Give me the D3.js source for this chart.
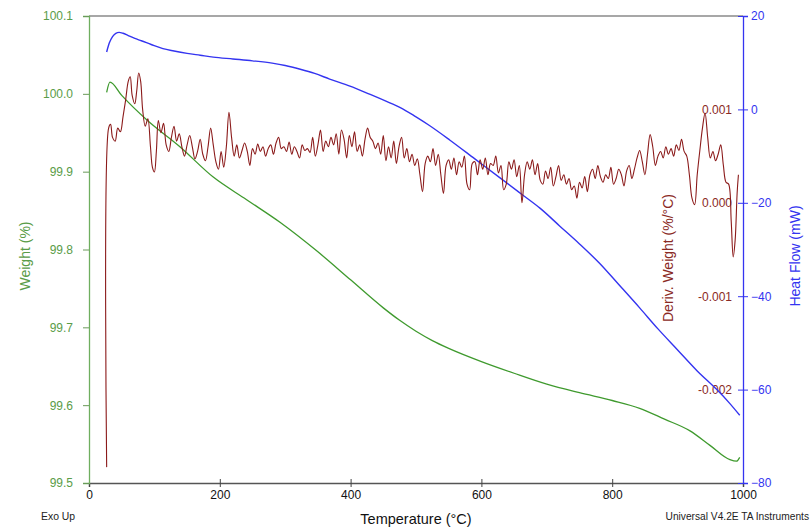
<!DOCTYPE html>
<html>
<head>
<meta charset="utf-8">
<script src="https://cdn.jsdelivr.net/npm/d3@7"></script>
<style>
  html, body { margin: 0; padding: 0; background: #fff; }
  svg { display: block; font-family: "Liberation Sans", Arial, sans-serif; }
</style>
</head>
<body>
<svg id="chart" width="810" height="531"></svg>
<script>
// ---------------- DATA ----------------
const xTicks = [0, 200, 400, 600, 800, 1000];
const weightTicks = [99.5, 99.6, 99.7, 99.8, 99.9, 100.0, 100.1];
const heatTicks = [-80, -60, -40, -20, 0, 20];
const derivTicks = [1, 0, -1, -2];               // in units of 0.001 %/°C
const derivTickLabels = ["0.001", "0.000", "-0.001", "-0.002"];

// Weight (%) vs temperature (°C)
const weightT = [27, 32, 50, 89, 139, 190, 241, 292, 350, 400, 450, 475, 500, 525, 550, 600, 650, 700, 750, 800, 842, 880, 919, 950, 980, 990, 995];
const weightV = [100.002, 100.015, 99.998, 99.966, 99.932, 99.893, 99.864, 99.835, 99.797, 99.761, 99.725, 99.709, 99.695, 99.683, 99.673, 99.656, 99.641, 99.627, 99.616, 99.606, 99.596, 99.582, 99.567, 99.548, 99.530, 99.528, 99.533];

// Heat flow (mW) vs temperature (°C)
const heatT = [27, 31, 36, 41, 46, 52, 60, 70, 80, 95, 113, 130, 150, 170, 190, 220, 250, 280, 300, 323, 345, 368, 399, 430, 460, 476, 500, 520, 552, 590, 628, 660, 690, 720, 750, 781, 810, 842, 870, 900, 930, 960, 980, 995];
const heatV = [12.3, 14.2, 15.6, 16.3, 16.5, 16.3, 15.8, 15.2, 14.7, 13.9, 13.0, 12.5, 12.0, 11.6, 11.2, 10.8, 10.4, 9.9, 9.4, 8.6, 7.7, 6.5, 5.0, 3.2, 1.4, 0.4, -1.6, -3.4, -6.6, -10.6, -14.6, -18.0, -21.2, -25.0, -28.8, -33.0, -37.5, -42.5, -47.0, -51.5, -56.0, -60.0, -63.0, -65.5];

// Deriv. weight (x0.001 %/°C) vs temperature (°C)
const derivT = [27,30,33,36,40,44,48,52,56,60,63,66,70,73,76,79,82,86,90,94,97,100,103,106,110,114,118,122,126,130,134,138,142,146,150,154,158,162,166,170,174,178,182,186,190,194,198,202,206,210,214,218,222,226,230,234,238,242,246,250,254,258,262,266,270,274,278,282,286,290,294,298,302,306,310,314,318,322,326,330,334,338,342,346,350,354,358,362,366,370,374,378,382,386,390,394,398,402,406,410,414,418,422,426,430,434,438,442,446,450,454,458,462,466,470,474,478,482,486,490,494,498,502,506,510,514,518,522,526,530,534,538,542,546,550,554,558,562,566,570,574,578,582,586,590,594,598,602,606,610,614,618,622,626,630,634,638,642,646,650,654,658,662,666,670,674,678,682,686,690,694,698,702,706,710,714,718,722,726,730,734,738,742,746,750,754,758,762,766,770,774,778,782,786,790,794,798,802,806,810,814,818,822,826,830,834,838,842,846,850,854,858,862,866,870,874,878,882,886,890,894,898,902,906,910,914,918,922,926,930,934,938,942,946,950,954,958,962,966,970,974,978,982,985,988,991,993];
const derivV = [-2.83,0.80,0.84,0.70,0.66,0.80,0.76,0.92,1.10,1.30,1.35,1.15,1.06,1.20,1.39,1.30,1.00,0.82,0.90,0.60,0.38,0.33,0.55,0.88,0.75,0.85,0.62,0.55,0.70,0.82,0.66,0.74,0.60,0.50,0.62,0.72,0.60,0.47,0.55,0.68,0.52,0.45,0.60,0.80,0.62,0.44,0.36,0.55,0.38,0.60,0.97,0.70,0.50,0.62,0.48,0.56,0.64,0.55,0.40,0.58,0.52,0.63,0.55,0.60,0.50,0.58,0.62,0.52,0.64,0.70,0.58,0.60,0.55,0.65,0.52,0.60,0.55,0.48,0.62,0.56,0.58,0.54,0.70,0.50,0.62,0.78,0.55,0.66,0.60,0.70,0.62,0.74,0.52,0.78,0.68,0.48,0.72,0.60,0.76,0.55,0.62,0.50,0.68,0.80,0.70,0.66,0.58,0.64,0.52,0.72,0.45,0.60,0.48,0.66,0.42,0.60,0.70,0.48,0.58,0.44,0.52,0.40,0.47,0.30,0.12,0.42,0.50,0.44,0.58,0.40,0.52,0.30,0.10,0.40,0.46,0.36,0.48,0.30,0.44,0.38,0.50,0.20,0.14,0.42,0.44,0.30,0.46,0.36,0.48,0.30,0.42,0.40,0.50,0.32,0.40,0.14,0.20,0.44,0.36,0.46,0.28,0.40,0.00,0.30,0.44,0.36,0.46,0.30,0.42,0.24,0.20,0.34,0.26,0.38,0.18,0.28,0.40,0.24,0.30,0.20,0.26,0.14,0.18,0.05,0.22,0.16,0.28,0.12,0.30,0.36,0.26,0.40,0.28,0.22,0.30,0.26,0.38,0.20,0.26,0.36,0.30,0.18,0.34,0.40,0.26,0.36,0.48,0.56,0.44,0.30,0.52,0.73,0.60,0.40,0.50,0.55,0.48,0.60,0.52,0.58,0.50,0.62,0.56,0.68,0.55,0.50,0.30,0.05,-0.02,0.30,0.56,0.80,0.96,0.70,0.48,0.55,0.45,0.52,0.62,0.40,0.22,0.20,-0.20,-0.58,-0.40,0.10,0.30];

// ---------------- LAYOUT ----------------
const L = 89, R = 743, T = 16, B = 483;
const green = "#3f9a2e", greenText = "#5a9c48", blue = "#3434f0", red = "#8b1a1a", redText = "#8a2a24";

const svg = d3.select("#chart");
const x = d3.scaleLinear().domain([0, 1000]).range([L, R]);
const yW = d3.scaleLinear().domain([99.5, 100.1]).range([B, T]);
const yH = d3.scaleLinear().domain([-80, 20]).range([B, T]);
const yD = d3.scaleLinear().domain([-3, 2]).range([B, T]);

// top border
svg.append("line").attr("x1", L).attr("x2", R).attr("y1", T).attr("y2", T)
  .attr("stroke", "#8a8a8a").attr("stroke-width", 1.5);

// ---------------- AXES ----------------
function range(a, b, s) { const o = []; for (let v = a; v <= b + 1e-9; v += s) o.push(+v.toFixed(4)); return o; }

// x axis
const gx = svg.append("g").attr("transform", `translate(0,${B})`);
gx.call(d3.axisBottom(x).tickValues(range(0, 1000, 50).filter(v => v % 200 !== 0)).tickSize(-3).tickFormat(""));
gx.call(d3.axisBottom(x).tickValues(xTicks).tickSize(4).tickPadding(3).tickFormat(d3.format("d")));
gx.selectAll(".tick line").attr("stroke", "#444");
gx.selectAll(".tick").filter(d => xTicks.includes(d)).select("line").attr("y1", -4);
gx.selectAll(".domain").attr("stroke", "#555").attr("stroke-width", 1.5);
gx.selectAll("text").attr("font-size", 12).attr("fill", "#111");

// left (weight) axis
const gl = svg.append("g").attr("transform", `translate(${L},0)`);
gl.call(d3.axisLeft(yW).tickValues(range(99.5, 100.1, 0.025).filter(v => Math.abs(v * 10 - Math.round(v * 10)) > 1e-6)).tickSize(3).tickFormat(""));
gl.call(d3.axisLeft(yW).tickValues(weightTicks).tickSize(6).tickPadding(10).tickFormat(d3.format(".1f")));
gl.selectAll(".tick line").attr("stroke", "#6a9a5a");
gl.selectAll(".domain").attr("stroke", "#6fae5f").attr("stroke-width", 1.3);
gl.selectAll("text").attr("font-size", 12).attr("fill", greenText);

// right (heat flow) axis
const gr = svg.append("g").attr("transform", `translate(${R},0)`);
gr.call(d3.axisRight(yH).tickValues(range(-80, 20, 5).filter(v => v % 20 !== 0)).tickSize(3).tickFormat(""));
gr.call(d3.axisRight(yH).tickValues(heatTicks).tickSize(5).tickPadding(3).tickFormat(d3.format("d")));
gr.selectAll(".tick line").attr("stroke", blue).attr("x1", function() { return -d3.select(this).attr("x2"); });
gr.selectAll(".domain").attr("stroke", blue).attr("stroke-width", 1.3);
gr.selectAll("text").attr("font-size", 12).attr("fill", blue);

// deriv labels (no axis line)
const gd = svg.append("g").attr("transform", `translate(${R - 11},0)`);
gd.call(d3.axisLeft(yD).tickValues(derivTicks).tickSize(0).tickPadding(0).tickFormat((d, i) => derivTickLabels[i]));
gd.select(".domain").remove();
gd.selectAll("text").attr("font-size", 12).attr("fill", redText);

// ---------------- LINES ----------------
const lineW = d3.line().x((d, i) => x(weightT[i])).y(d => yW(d)).curve(d3.curveMonotoneX);
const lineH = d3.line().x((d, i) => x(heatT[i])).y(d => yH(d)).curve(d3.curveMonotoneX);
const lineD = d3.line().x((d, i) => x(derivT[i])).y(d => yD(d)).curve(d3.curveCatmullRom.alpha(0.5));

svg.append("path").attr("d", lineH(heatV)).attr("fill", "none").attr("stroke", blue).attr("stroke-width", 1.4);
svg.append("path").attr("d", lineW(weightV)).attr("fill", "none").attr("stroke", green).attr("stroke-width", 1.3);
svg.append("path").attr("d", lineD(derivV)).attr("fill", "none").attr("stroke", red).attr("stroke-width", 1.1);

// ---------------- TITLES ----------------
svg.append("text").attr("transform", `translate(30,256) rotate(-90)`).attr("text-anchor", "middle")
  .attr("font-size", 14).attr("fill", greenText).text("Weight (%)");
svg.append("text").attr("transform", `translate(673,258) rotate(-90)`).attr("text-anchor", "middle")
  .attr("font-size", 14).attr("fill", redText).text("Deriv. Weight (%/°C)");
svg.append("text").attr("transform", `translate(800,256) rotate(-90)`).attr("text-anchor", "middle")
  .attr("font-size", 14).attr("fill", blue).text("Heat Flow (mW)");
svg.append("text").attr("x", (L + R) / 2).attr("y", 524).attr("text-anchor", "middle")
  .attr("font-size", 14.5).attr("fill", "#111").text("Temperature (°C)");
svg.append("text").attr("x", 41).attr("y", 520).attr("font-size", 10.4).attr("fill", "#222").text("Exo Up");
svg.append("text").attr("x", 809).attr("y", 520).attr("text-anchor", "end").attr("font-size", 10.2).attr("fill", "#222").text("Universal V4.2E TA Instruments");
</script>
</body>
</html>
